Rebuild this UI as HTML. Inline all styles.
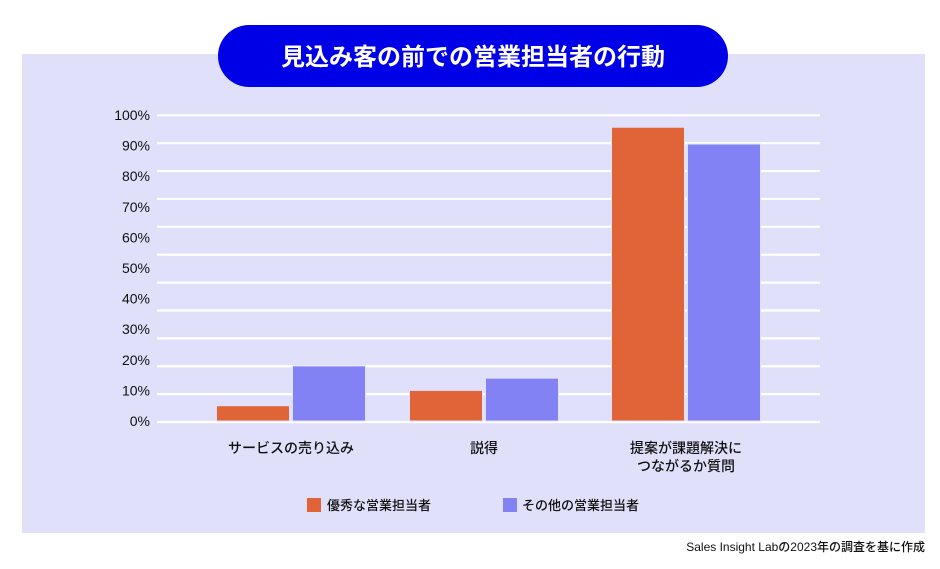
<!DOCTYPE html>
<html><head><meta charset="utf-8"><style>
body{margin:0;width:940px;height:564px;background:#fff;overflow:hidden;font-family:"Liberation Sans","Noto Sans CJK JP",sans-serif}
</style></head><body>
<svg width="940" height="564" xmlns="http://www.w3.org/2000/svg" font-family="Liberation Sans, Noto Sans CJK JP, sans-serif">
<rect x="22" y="54" width="903" height="479" fill="#e0e0fa"/>
<rect x="218" y="25" width="510" height="62" rx="31" fill="#0000e6"/>
<text x="473" y="65" text-anchor="middle" font-size="24" font-weight="bold" fill="#fff">見込み客の前での営業担当者の行動</text>
<g id="grid"></g><g id="yt"></g><g id="bars"></g><g id="xl"></g>
<rect x="307" y="498" width="14" height="14" fill="#e06438"/>
<text x="327" y="510" font-size="13" font-weight="500" fill="#111">優秀な営業担当者</text>
<rect x="503" y="498" width="14" height="14" fill="#8282f5"/>
<text x="522" y="510" font-size="13" font-weight="500" fill="#111">その他の営業担当者</text>
<text x="925" y="551" text-anchor="end" font-size="12" font-weight="500" fill="#111">Sales Insight Labの2023年の調査を基に作成</text>
</svg>
<script>
const categories=[["サービスの売り込み"],["説得"],["提案が課題解決に","つながるか質問"]];
const topValues=[5,10,96];
const otherValues=[18,14,90.5];
const tickLabels=["0%","10%","20%","30%","40%","50%","60%","70%","80%","90%","100%"];
const tickValues=[0,10,20,30,40,50,60,70,80,90,100];
const NS="http://www.w3.org/2000/svg";
const y0=421,y100=115;
function y(v){return y0-(y0-y100)*v/100;}
const groupCenters=[291,484,686];
function xc(i){return groupCenters[i];}
function mk(t,a,p){const e=document.createElementNS(NS,t);for(const k in a)e.setAttribute(k,a[k]);p.appendChild(e);return e;}
const grid=document.getElementById('grid');
for(let i=0;i<12;i++){const gy=115.3+i*(422-115.3)/11;
const l=mk('line',{x1:157,x2:820,y1:gy,y2:gy,stroke:'#fff','stroke-width':2.2},grid);

}
const yt=document.getElementById('yt');
tickValues.forEach((v,i)=>{const t=mk('text',{x:150,y:y(v)+5,'text-anchor':'end','font-size':14,'font-weight':500,fill:'#111'},yt);t.textContent=tickLabels[i];

});
const bars=document.getElementById('bars');const bw=73;
categories.forEach((c,i)=>{
const a=mk('rect',{x:xc(i)-bw-1.5,y:y(topValues[i]),width:bw,height:y0-y(topValues[i]),fill:'#e06438',stroke:'#e0e0fa','stroke-width':1},bars);


const b=mk('rect',{x:xc(i)+1.5,y:y(otherValues[i]),width:bw,height:y0-y(otherValues[i]),fill:'#8282f5',stroke:'#e0e0fa','stroke-width':1},bars);


c.forEach((ln,j)=>{const t=mk('text',{x:xc(i),y:453+j*18,'text-anchor':'middle','font-size':14,'font-weight':500,fill:'#111'},document.getElementById('xl'));t.textContent=ln;

});
});
</script>
</body></html>
